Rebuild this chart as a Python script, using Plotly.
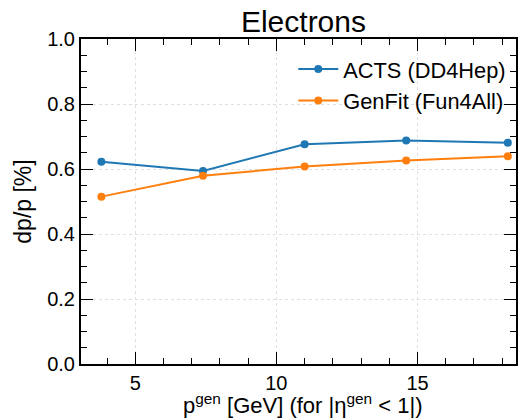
import plotly.graph_objects as go

p_gen = [3.8, 7.4, 11.0, 14.6, 18.2]
acts_dpp = [0.622, 0.594, 0.676, 0.688, 0.681]
genfit_dpp = [0.515, 0.579, 0.608, 0.626, 0.639]
series_names = ["ACTS (DD4Hep)", "GenFit (Fun4All)"]
colors = ["#1f77b4", "#ff7f0e"]

FONT = "Liberation Sans, Arial, Helvetica, sans-serif"

fig = go.Figure()
for name, ys, c in zip(series_names, [acts_dpp, genfit_dpp], colors):
    fig.add_trace(go.Scatter(x=p_gen, y=ys, mode="lines+markers", name=name,
                             line=dict(color=c, width=2),
                             marker=dict(color=c, size=8)))

W, H = 518, 420
L, T, B = 81, 39, 56
pw = W - L
center_paper = (304.5 - L) / pw

axis_common = dict(showline=True, linecolor="black", linewidth=2, mirror="ticks",
                   ticks="inside", ticklen=12, tickwidth=1.3, tickcolor="black",
                   showgrid=True, gridcolor="#e0e0e0", griddash="dot", gridwidth=1,
                   zeroline=False,
                   tickfont=dict(family=FONT, size=20, color="black"))

fig.update_xaxes(range=[3.078, 18.49], tickvals=[5, 10, 15], ticktext=["5", "10", "15"],
                 minor=dict(ticks="inside", ticklen=6, dtick=1, tick0=0, tickwidth=1.1,
                            tickcolor="black", showgrid=False),
                 ticklabelstandoff=0, **axis_common)
fig.update_yaxes(range=[0, 1.0], tickvals=[0, 0.2, 0.4, 0.6, 0.8, 1.0],
                 ticktext=["0.0", "0.2", "0.4", "0.6", "0.8", "1.0"],
                 minor=dict(ticks="inside", ticklen=6, dtick=0.05, tick0=0, tickwidth=1.1,
                            tickcolor="black", showgrid=False),
                 ticklabelstandoff=0,
                 title=dict(text="dp/p [%]", font=dict(family=FONT, size=23, color="black"),
                            standoff=9),
                 **axis_common)

fig.add_annotation(text="p<sup>gen</sup> [GeV] (for |η<sup>gen</sup> < 1|)",
                   xref="paper", yref="paper", x=center_paper, y=0, yshift=-24,
                   xanchor="center", yanchor="top", showarrow=False,
                   font=dict(family=FONT, size=22, color="black"))

fig.update_layout(
    width=W, height=H,
    margin=dict(l=L, r=0, t=T, b=B, pad=0),
    paper_bgcolor="white", plot_bgcolor="white",
    title=dict(text="Electrons", x=center_paper, xref="paper", xanchor="center",
               y=1, yref="paper", yanchor="bottom", pad=dict(b=7),
               font=dict(family=FONT, size=30, color="black")),
    legend=dict(x=0.488, y=0.971, xanchor="left", yanchor="top",
                bgcolor="rgba(0,0,0,0)", borderwidth=0,
                font=dict(family=FONT, size=21.8, color="black"),
                itemwidth=40),
    showlegend=True,
)

fig.write_html("out.html", config={"displayModeBar": False},
               post_script="document.body.style.margin='0';document.body.style.overflow='hidden';")
